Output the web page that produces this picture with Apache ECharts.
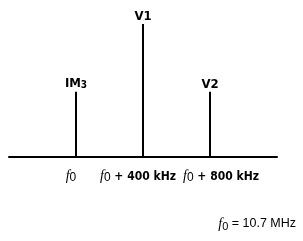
<!DOCTYPE html>
<html>
<head>
<meta charset="utf-8">
<script src="https://cdn.jsdelivr.net/npm/echarts@6/dist/echarts.min.js"></script>
<style>
  html, body { margin: 0; padding: 0; background: #fff; }
  #chart { width: 303px; height: 241px; }
</style>
</head>
<body>
<div id="chart"></div>
<script>
// offsets from f0, kHz
var freqs = [0, 400, 800]
var names = ['IM3', 'V1', 'V2']
var amps = [0.49, 1, 0.49]
var tickLabels = { 0: 'f0', 400: 'f0 + 400 kHz', 800: 'f0 + 800 kHz' }
var note = 'f0 = 10.7 MHz'

var bold = '"Liberation Sans Narrow", "DejaVu Sans Condensed", sans-serif'

var myChart = echarts.init(document.getElementById('chart'))

let option = {
  animation: false,
  grid: { left: 9, right: 26, top: 24, bottom: 84 },
  title: {
    text: '{f|f}{s|0}{t|' + note.slice(2) + '}',
    right: 2,
    bottom: 5,
    textStyle: {
      fontWeight: 'normal',
      rich: {
        f: { fontSize: 14, fontWeight: 'normal', fontStyle: 'italic', fontFamily: 'Liberation Serif, serif', color: '#000' },
        s: { fontSize: 11, fontWeight: 'normal', fontFamily: 'Liberation Sans, sans-serif', color: '#000', padding: [5, 0, 0, 0] },
        t: { fontSize: 12.5, fontWeight: 'normal', fontFamily: 'Liberation Sans, sans-serif', color: '#000' }
      }
    }
  },
  xAxis: {
    type: 'value',
    min: -400,
    max: 1200,
    interval: 400,
    axisLine: { show: true, onZero: false, lineStyle: { color: '#000', width: 2 } },
    axisTick: { show: false },
    splitLine: { show: false },
    axisLabel: {
      margin: 12,
      showMinLabel: false,
      showMaxLabel: false,
      formatter: function (v) {
        var t = tickLabels[v]
        if (!t) return ''
        var rest = t.slice(2)
        var st = v === 0 ? 'a' : (v === 800 ? 'c' : 'b')
        return '{' + st + 'f|f}{' + st + 's|0}{' + st + 't|' + rest + '}'
      },
      rich: {
        af: { fontSize: 14, fontStyle: 'italic', fontFamily: 'Liberation Serif, serif', color: '#000' },
        as: { fontSize: 12, fontFamily: 'Liberation Sans, sans-serif', color: '#000', padding: [3, 10, 0, 0] },
        at: { fontSize: 12 },
        bf: { fontSize: 14, fontStyle: 'italic', fontFamily: 'Liberation Serif, serif', color: '#000' },
        bs: { fontSize: 12, fontFamily: 'Liberation Sans, sans-serif', color: '#000', padding: [3, 0, 0, 0] },
        bt: { fontSize: 12, fontWeight: 'bold', fontFamily: bold, color: '#000', padding: [0, 10, 0, 0] },
        cf: { fontSize: 14, fontStyle: 'italic', fontFamily: 'Liberation Serif, serif', color: '#000', padding: [0, 0, 0, 22] },
        cs: { fontSize: 12, fontFamily: 'Liberation Sans, sans-serif', color: '#000', padding: [3, 0, 0, 0] },
        ct: { fontSize: 12, fontWeight: 'bold', fontFamily: bold, color: '#000' }
      }
    }
  },
  yAxis: {
    type: 'value',
    min: 0,
    max: 1,
    show: false
  },
  series: [
    {
      type: 'bar',
      barWidth: 2,
      itemStyle: { color: '#000' },
      label: {
        show: true,
        position: 'top',
        distance: 1,
        formatter: function (p) {
          var n = names[p.dataIndex]
          if (n === 'IM3') return '{b|IM}{sub|3}'
          return '{b|' + n + '}'
        },
        rich: {
          b: { fontSize: 13, fontWeight: 'bold', fontFamily: bold, color: '#000' },
          sub: { fontSize: 10, fontWeight: 'bold', fontFamily: bold, color: '#000', padding: [4, 0, 0, 0] }
        }
      },
      data: freqs.map(function (f, i) { return [f, amps[i]] })
    }
  ]
}
myChart.setOption(option)
</script>
</body>
</html>
